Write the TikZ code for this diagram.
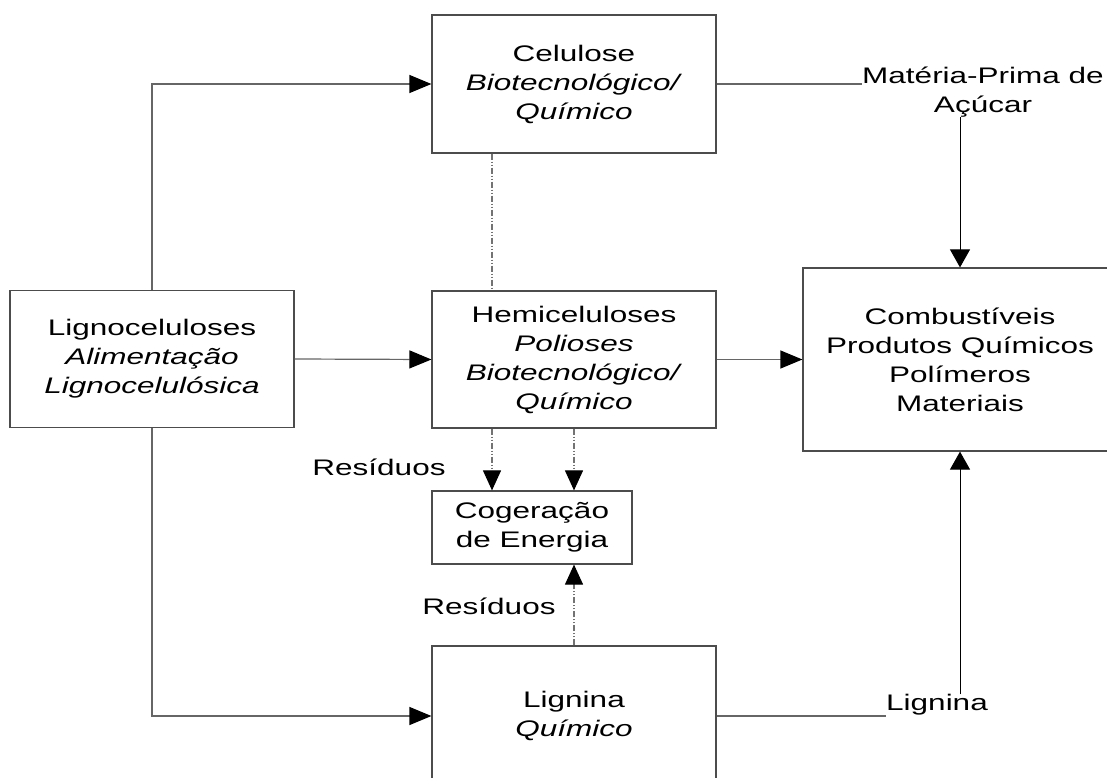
\documentclass[tikz,border=0pt]{standalone}
\usepackage{fontspec}
\setmainfont[FakeStretch=1.4]{Liberation Sans}
\usetikzlibrary{arrows.meta}
\begin{document}
\begin{tikzpicture}[x=1pt,y=-1pt,
  every node/.style={font=\fontsize{22.5}{29}\selectfont, inner sep=0pt, align=center},
  procbox/.style={draw=black!70, line width=1.2pt, rectangle, minimum width=284pt, minimum height=137pt},
  flow/.style={draw=black!60, line width=1.2pt},
  flowarr/.style={flow, -{Triangle[length=22pt,width=18pt,color=black]}},
  resid/.style={draw=black!55, line width=1.1pt, dash pattern=on 6pt off 2pt on 1pt off 2pt on 1pt off 2pt},
  residarr/.style={resid, -{Triangle[length=20pt,width=18pt,color=black]}}
]
\useasboundingbox (0,0) rectangle (1107,778);
\clip (0,0) rectangle (1107,778);

% process boxes
\node[procbox] (ligno) at (152,359) {Lignoceluloses\\\textit{Alimentação}\\\textit{Lignocelulósica}};
\node[procbox, minimum height=138pt] (cel) at (574,84) {Celulose\\\textit{Biotecnológico/}\\\textit{Químico}};
\node[procbox] (hemi) at (574,359.5) {Hemiceluloses\\\textit{Polioses}\\\textit{Biotecnológico/}\\\textit{Químico}};
\node[procbox, minimum height=140pt] (lig) at (574,716) {Lignina\\\textit{Químico}};
\node[procbox, minimum width=200pt, minimum height=73pt] (cog) at (532,527.5) {Cogeração\\de Energia};
\node[procbox, minimum width=314pt, minimum height=183pt] (comb) at (960,359.5) {Combustíveis\\Produtos Químicos\\Polímeros\\Materiais};

% free labels
\node (mp) at (983,92) {Matéria-Prima de\\Açúcar};
\node (liglab) at (937,705) {Lignina};
\node (res1) at (379,467) {Resíduos};
\node (res2) at (489,606) {Resíduos};

% feed split
\draw[flowarr] (ligno.north) |- (cel.west);
\draw[flowarr] (ligno.east) -- (hemi.west);
\draw[flowarr] (ligno.south) |- (lig.west);
\draw[flowarr] (hemi.east) -- (comb.west);

% sugar and lignin streams to products
\draw[flow] (cel.east) -- (cel.east -| mp.west);
\draw[line width=1pt, -{Triangle[length=18pt,width=20pt]}] (mp.south -| comb.north) -- (comb.north);
\draw[flow] (lig.east) -- (lig.east -| liglab.west);
\draw[line width=1pt, -{Triangle[length=18pt,width=20pt]}] (liglab.north -| comb.south) -- (comb.south);

% residue streams
\coordinate (cs) at ([xshift=-82pt]cel.south);
\coordinate (hs) at ([xshift=-82pt]hemi.south);
\draw[resid] (cs) -- (cs |- hemi.north);
\draw[residarr] (hs) -- (hs |- cog.north);
\draw[residarr] (hemi.south) -- (hemi.south |- cog.north);
\draw[residarr] (lig.north) -- (lig.north |- cog.south);
\end{tikzpicture}
\end{document}
